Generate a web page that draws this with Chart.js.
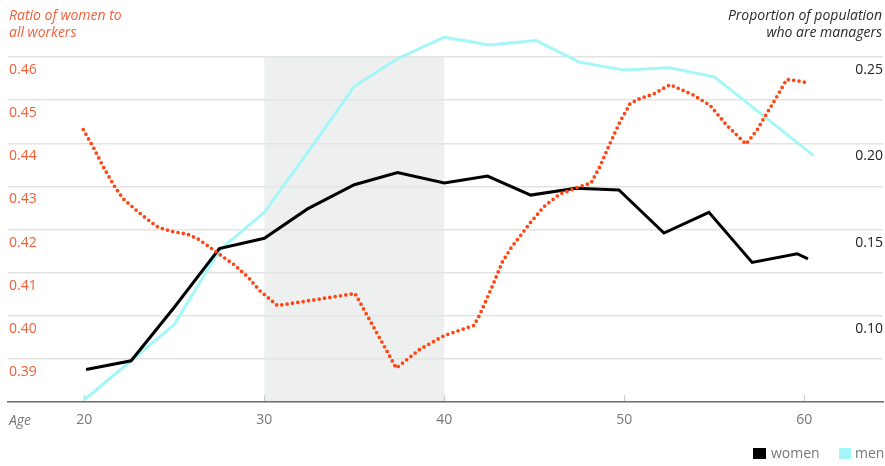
<!DOCTYPE html>
<html><head><meta charset="utf-8">
<script src="https://cdn.jsdelivr.net/npm/chart.js@4.4.1/dist/chart.umd.min.js"></script>
<style>
html,body{margin:0;padding:0;background:#fff;}
#wrap{position:relative;width:885px;height:466px;font-family:"Open Sans",sans-serif;overflow:hidden;}
#c{position:absolute;left:0;top:0;}
.t{position:absolute;font-size:14px;line-height:17px;white-space:nowrap;}
.it{font-style:italic;}
.box{position:absolute;}
</style></head><body>
<div id="wrap">
<canvas id="c" width="885" height="466"></canvas>
<div class="t it" style="left:9px;top:6px;color:#f2603a">Ratio of women to<br>all workers</div>
<div class="t it" style="right:3px;top:6px;color:#2a2a2a;text-align:right">Proportion of population<br>who are managers</div>
<div class="t it" style="left:9px;top:411px;color:#777">Age</div>
<div class="box" style="left:753px;top:448px;width:13px;height:11px;background:#000"></div>
<div class="t" style="left:771px;top:444px;color:#777">women</div>
<div class="box" style="left:839px;top:448px;width:12px;height:11px;background:#a3f7f8"></div>
<div class="t" style="left:855px;top:444px;color:#777">men</div>
</div>
<script>
// Women: proportion who are managers (right axis)
const womenAges  = [20.1, 22.6, 25.0, 27.5, 30.0, 32.4, 35.0, 37.4, 40.0, 42.4, 44.8, 47.3, 49.7, 52.2, 54.7, 57.1, 59.6, 60.2];
const womenShare = [0.069, 0.074, 0.105, 0.139, 0.145, 0.162, 0.176, 0.183, 0.177, 0.181, 0.170, 0.174, 0.173, 0.148, 0.160, 0.131, 0.136, 0.133];
// Men: proportion who are managers (right axis)
const menAges  = [19.95, 22.6, 25.0, 27.5, 30.0, 32.5, 35.0, 37.4, 40.0, 42.5, 45.1, 47.5, 50.0, 52.5, 55.0, 60.5];
const menShare = [0.051, 0.074, 0.095, 0.138, 0.160, 0.196, 0.233, 0.249, 0.2615, 0.257, 0.2595, 0.247, 0.2424, 0.2438, 0.2385, 0.193];
// Ratio of women to all workers (left axis)
const ratioAges = [19.94, 20.50, 21.06, 21.71, 22.17, 22.91, 23.47, 24.11, 24.94, 25.69, 26.33, 26.98, 27.53, 28.28, 29.02, 29.76, 30.73,
  35.04, 37.33, 38.65, 39.97, 41.65, 41.98, 42.68, 43.21, 43.73, 44.76, 45.50, 46.43, 46.98, 47.54, 48.15, 48.65, 49.26, 49.76,
  50.32, 50.87, 51.61, 52.54, 53.83, 54.76, 55.69, 56.76, 57.36, 57.91, 58.47, 59.02, 59.60, 60.21];
const ratioValues = [0.4432, 0.4391, 0.4345, 0.4298, 0.4271, 0.4244, 0.4225, 0.4205, 0.4195, 0.4190, 0.4178, 0.4159, 0.4142, 0.4120, 0.4093, 0.4058, 0.4024,
  0.4052, 0.3879, 0.3923, 0.3954, 0.3978, 0.4004, 0.4070, 0.4124, 0.4159, 0.4215, 0.4252, 0.4283, 0.4291, 0.4300, 0.4308, 0.4347, 0.4405, 0.4450,
  0.4492, 0.4504, 0.4514, 0.4536, 0.4512, 0.4488, 0.4442, 0.4398, 0.4430, 0.4469, 0.4508, 0.4548, 0.4545, 0.4540];

const xTicks = [20, 30, 40, 50, 60];
const leftTicks = [0.38, 0.39, 0.40, 0.41, 0.42, 0.43, 0.44, 0.45, 0.46];
const leftLabels = ['0.46', '0.45', '0.44', '0.43', '0.42', '0.41', '0.40', '0.39'];
const rightTicks = [0.05, 0.10, 0.15, 0.20, 0.25];
const rightLabels = ['0.25', '0.20', '0.15', '0.10'];
const bandRange = [30, 40];

Chart.defaults.font.family = "'Open Sans', sans-serif";
Chart.defaults.font.size = 14;

const bandPlugin = {
  id: 'band',
  beforeDraw(chart) {
    const {ctx, chartArea: {top, bottom}, scales: {x}} = chart;
    const x0 = x.getPixelForValue(bandRange[0]), x1 = x.getPixelForValue(bandRange[1]);
    ctx.save();
    ctx.fillStyle = '#eef0ef';
    ctx.fillRect(x0, top, x1 - x0, bottom - top);
    ctx.restore();
  }
};
const tickPlugin = {
  id: 'xtickmarks',
  beforeDatasetsDraw(chart) {
    const {ctx, chartArea: {bottom}, scales: {x}} = chart;
    ctx.save();
    ctx.strokeStyle = '#cccccc';
    ctx.lineWidth = 1.2;
    xTicks.forEach(v => {
      const px = Math.round(x.getPixelForValue(v)) + 0.5;
      ctx.beginPath(); ctx.moveTo(px, bottom - 7); ctx.lineTo(px, bottom); ctx.stroke();
    });
    ctx.restore();
  }
};

const pts = (xs, ys) => xs.map((a, i) => ({x: a, y: ys[i]}));

new Chart(document.getElementById('c'), {
  type: 'line',
  data: {
    datasets: [
      {label: 'Ratio of women to all workers', data: pts(ratioAges, ratioValues), yAxisID: 'yL',
       borderColor: '#ff4514', borderWidth: 3.7, borderDash: [0, 5.4], borderCapStyle: 'round',
       pointRadius: 0, tension: 0, fill: false, order: 0, clip: false},
      {label: 'women', data: pts(womenAges, womenShare), yAxisID: 'yR',
       borderColor: '#000', backgroundColor: '#000', borderWidth: 3, pointRadius: 0, tension: 0,
       borderJoinStyle: 'miter', fill: false, order: 1, clip: false},
      {label: 'men', data: pts(menAges, menShare), yAxisID: 'yR',
       borderColor: '#a3f7f8', backgroundColor: '#a3f7f8', borderWidth: 3, pointRadius: 0, tension: 0,
       fill: false, order: 2, clip: false}
    ]
  },
  options: {
    responsive: false,
    animation: false,
    layout: {padding: {left: 6, right: 2, top: 57, bottom: 29}},
    plugins: {legend: {display: false}, tooltip: {enabled: false}},
    scales: {
      x: {
        type: 'linear', min: 15.76, max: 64.37,
        afterBuildTicks: s => { s.ticks = xTicks.map(v => ({value: v})); },
        grid: {display: false, drawTicks: false},
        border: {display: true, color: '#6e6e6e', width: 1.5, z: 1},
        ticks: {color: '#777', padding: 9, callback: v => String(v)}
      },
      yL: {
        type: 'linear', position: 'left', min: 0.38, max: 0.46,
        afterBuildTicks: s => { s.ticks = leftTicks.map(v => ({value: v})); },
        grid: {color: '#e3e3e3', lineWidth: 1.5, drawTicks: false},
        border: {display: false},
        ticks: {mirror: true, padding: 1, labelOffset: 13, color: '#f2603a',
          callback: v => { const s = Number(v).toFixed(2); return leftLabels.includes(s) ? s : ''; }}
      },
      yR: {
        type: 'linear', position: 'right', min: 0.05, max: 0.25,
        afterBuildTicks: s => { s.ticks = rightTicks.map(v => ({value: v})); },
        grid: {display: false, drawTicks: false},
        border: {display: false},
        ticks: {mirror: true, padding: 0, labelOffset: 13, color: '#222',
          callback: v => { const s = Number(v).toFixed(2); return rightLabels.includes(s) ? s : ''; }}
      }
    }
  },
  plugins: [bandPlugin, tickPlugin]
});
</script>
</body></html>
